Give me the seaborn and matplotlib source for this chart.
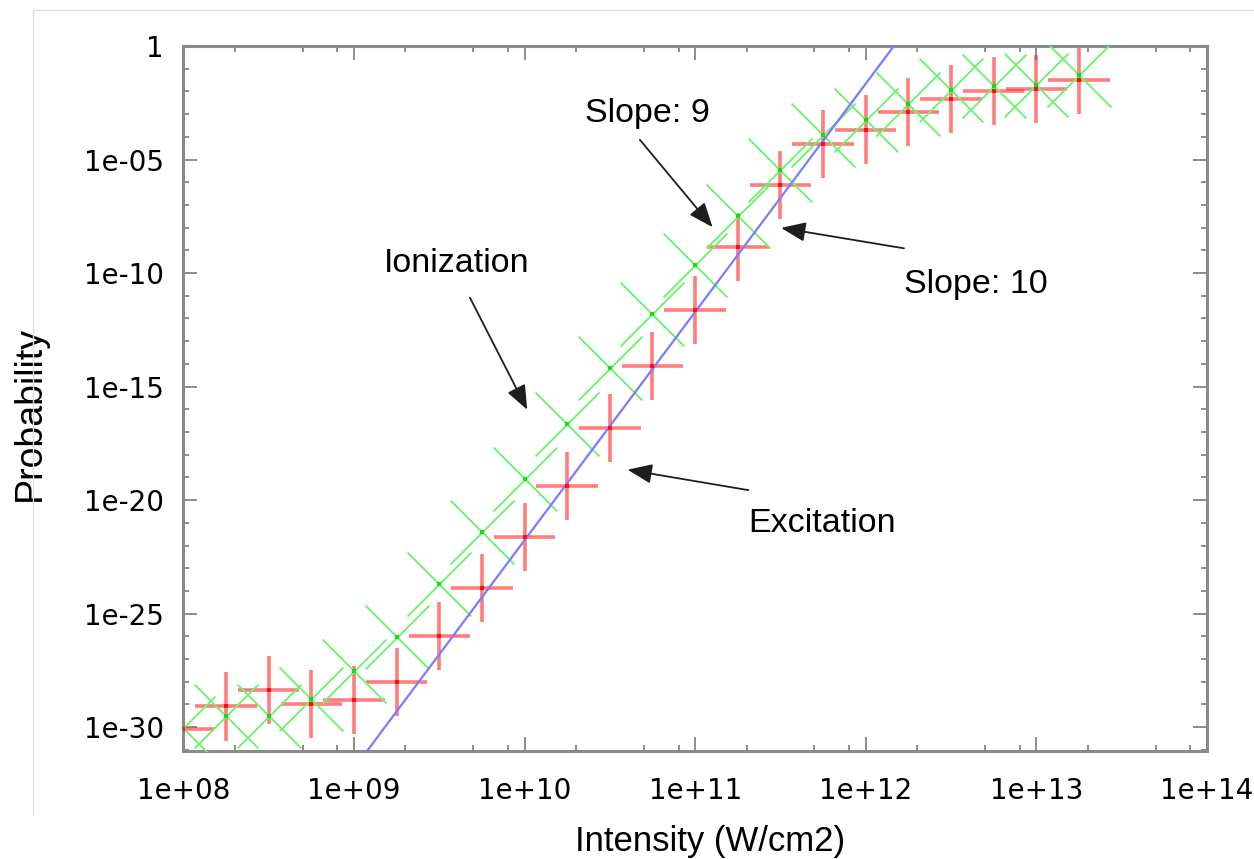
import numpy as np
import pandas as pd
import matplotlib
matplotlib.use("Agg")
import matplotlib.pyplot as plt
import seaborn as sns
from matplotlib.ticker import LogLocator, FixedLocator, NullFormatter
from matplotlib.lines import Line2D

# log10 of laser intensity (W/cm2), one point every quarter decade
log_intensity = [8.0, 8.25, 8.5, 8.75, 9.0, 9.25, 9.5, 9.75, 10.0, 10.25, 10.5,
                 10.75, 11.0, 11.25, 11.5, 11.75, 12.0, 12.25, 12.5, 12.75, 13.0, 13.25]

# log10 of probability
log_ionization = [-30.02, -29.53, -29.50, -28.74, -27.52, -26.03, -23.71, -21.40,
                  -19.08, -16.66, -14.20, -11.80, -9.65, -7.50, -5.48, -3.90,
                  -3.27, -2.54, -1.95, -1.74, -1.70, -1.26]
log_excitation = [-30.09, -29.09, -28.37, -28.99, -28.80, -28.01, -25.98, -23.88,
                  -21.62, -19.38, -16.81, -14.10, -11.63, -8.85, -6.14, -4.30,
                  -3.68, -2.90, -2.32, -1.99, -1.88, -1.51]

# error bar half widths in decades
xerr_decades = 0.18
yerr_decades = 1.5

# slope-10 guide line, end points in log10 units
fit_log_intensity = [9.078, 12.165]
fit_log_prob = [-31.04, 0.0]

x_ticks = [1e8, 1e9, 1e10, 1e11, 1e12, 1e13, 1e14]
x_tick_labels = ["1e+08", "1e+09", "1e+10", "1e+11", "1e+12", "1e+13", "1e+14"]
y_ticks = [1e-30, 1e-25, 1e-20, 1e-15, 1e-10, 1e-05, 1]
y_tick_labels = ["1e-30", "1e-25", "1e-20", "1e-15", "1e-10", "1e-05", "1"]


def main():
    sns.set_style("ticks")
    plt.rcParams["font.family"] = ["Liberation Sans", "DejaVu Sans"]
    plt.rcParams["text.color"] = "black"
    plt.rcParams["axes.labelcolor"] = "black"

    li = np.array(log_intensity)
    df = pd.DataFrame({
        "intensity": 10 ** li,
        "ionization": 10 ** np.array(log_ionization),
        "excitation": 10 ** np.array(log_excitation),
    })
    fit = pd.DataFrame({"intensity": 10 ** np.array(fit_log_intensity),
                        "prob": 10 ** np.array(fit_log_prob)})

    fig = plt.figure(figsize=(12.54, 8.59), dpi=100)
    ax = fig.add_axes([183.3 / 1254, 1 - 751 / 859, 1023.7 / 1254, 705 / 859])

    # excitation error bars
    xlo = df["intensity"] - 10 ** (li - xerr_decades)
    xhi = 10 ** (li + xerr_decades) - df["intensity"]
    le = np.array(log_excitation)
    ylo = df["excitation"] - 10 ** (le - yerr_decades)
    yhi = 10 ** (le + yerr_decades) - df["excitation"]
    ax.errorbar(df["intensity"], df["excitation"], xerr=[xlo, xhi], yerr=[ylo, yhi],
                fmt="none", ecolor=(1, 0.15, 0.15, 0.6), elinewidth=2.6, capsize=0, zorder=2)

    # ionization crosses
    sns.scatterplot(data=df, x="intensity", y="ionization", marker="x", s=46 ** 2,
                    color="#72f272", linewidth=1.4, ax=ax, zorder=3)
    sns.scatterplot(data=df, x="intensity", y="ionization", marker="s", s=12,
                    color="#10e010", linewidth=0, ax=ax, zorder=4)
    sns.scatterplot(data=df, x="intensity", y="excitation", marker="s", s=12,
                    color="#ff1010", linewidth=0, ax=ax, zorder=4)

    # slope-10 guide
    sns.lineplot(data=fit, x="intensity", y="prob", color="#7b7bff", linewidth=1.6,
                 sort=False, estimator=None, ax=ax, zorder=3)

    ax.set_xscale("log")
    ax.set_yscale("log")
    ax.set_xlim(1e8, 1e14)
    ax.set_ylim(10 ** -31.05, 1)

    ax.xaxis.set_major_locator(FixedLocator(x_ticks))
    ax.set_xticklabels(x_tick_labels)
    ax.xaxis.set_minor_locator(LogLocator(base=10, subs=(2, 5, 8), numticks=30))
    ax.xaxis.set_minor_formatter(NullFormatter())
    ax.yaxis.set_major_locator(FixedLocator(y_ticks))
    ax.set_yticklabels(y_tick_labels)
    ax.yaxis.set_minor_locator(FixedLocator([10.0 ** k for k in range(-31, 1)]))
    ax.yaxis.set_minor_formatter(NullFormatter())

    ax.tick_params(which="both", direction="in", top=True, right=True,
                   color="#6e6e6e", width=1.1, labelcolor="black")
    ax.tick_params(which="major", length=10)
    ax.tick_params(which="minor", length=4.5)
    ax.tick_params(axis="x", which="major", pad=19, labelsize=20)
    ax.tick_params(axis="y", which="major", pad=14, labelsize=20)
    for lab in ax.get_xticklabels() + ax.get_yticklabels():
        lab.set_family("DejaVu Sans")
    for sp in ax.spines.values():
        sp.set_color("#8a8a8a")
        sp.set_linewidth(2.2)

    ax.set_xlabel("Intensity (W/cm2)", fontsize=25)
    ax.set_ylabel("Probability", fontsize=27)
    ax.xaxis.set_label_coords(0.5145, -0.129)
    ax.xaxis.label.set_va("center")
    ax.yaxis.set_label_coords(-0.15, 0.479)
    ax.yaxis.label.set_va("center")

    arrow = dict(arrowstyle="-|>,head_length=0.5,head_width=0.2", color="#1e1e1e",
                 lw=1.3, mutation_scale=30, shrinkA=0, shrinkB=0)
    tf = dict(xycoords="axes fraction", textcoords="axes fraction")
    txt = dict(fontsize=24.5, ha="center", va="center", transform=ax.transAxes)
    ax.text(0.267, 0.692, "Ionization", **txt)
    ax.text(0.453, 0.904, "Slope: 9", **txt)
    ax.text(0.774, 0.662, "Slope: 10", **txt)
    ax.text(0.624, 0.323, "Excitation", **txt)
    ax.annotate("", xy=(0.336, 0.484), xytext=(0.280, 0.643), arrowprops=arrow, **tf)
    ax.annotate("", xy=(0.517, 0.743), xytext=(0.446, 0.867), arrowprops=arrow, **tf)
    ax.annotate("", xy=(0.584, 0.742), xytext=(0.704, 0.713), arrowprops=arrow, **tf)
    ax.annotate("", xy=(0.434, 0.399), xytext=(0.552, 0.370), arrowprops=arrow, **tf)

    # faint screenshot frame
    fig.add_artist(Line2D([33 / 1254, 33 / 1254], [1 - 10 / 859, 1 - 815 / 859],
                          transform=fig.transFigure, color="#dedede", lw=1))
    fig.add_artist(Line2D([33 / 1254, 1], [1 - 10 / 859, 1 - 10 / 859],
                          transform=fig.transFigure, color="#dedede", lw=1))

    fig.savefig("out.png", dpi=100)
    plt.close(fig)


if __name__ == "__main__":
    main()
